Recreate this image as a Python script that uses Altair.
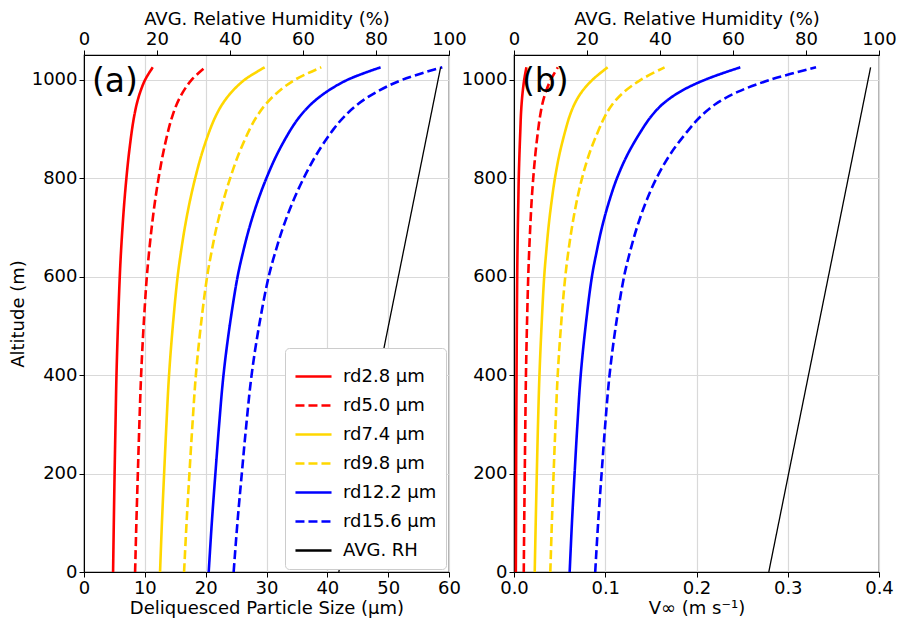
import altair as alt
import pandas as pd

# Altitude levels (m)
altitude = [0, 100, 200, 300, 400, 500, 600, 650, 700, 750, 800, 850, 900, 925, 950, 975, 1000, 1025]

series_names = ["rd2.8 µm", "rd5.0 µm", "rd7.4 µm", "rd9.8 µm", "rd12.2 µm", "rd15.6 µm", "AVG. RH"]
series_colors = ["#ff0000", "#ff0000", "#ffd700", "#ffd700", "#0000ff", "#0000ff", "#000000"]
series_dash = [[1, 0], [9, 4], [1, 0], [9, 4], [1, 0], [9, 4], [1, 0]]

# Deliquesced particle size (µm) per series
size_rd28 = [4.78, 4.90, 5.03, 5.18, 5.34, 5.58, 5.88, 6.08, 6.33, 6.62, 6.97, 7.39, 7.91, 8.24, 8.66, 9.25, 10.06, 11.3]
size_rd50 = [8.40, 8.61, 8.85, 9.10, 9.39, 9.80, 10.33, 10.70, 11.13, 11.64, 12.26, 13.00, 13.92, 14.50, 15.24, 16.28, 17.72, 19.9]
size_rd74 = [12.5, 12.81, 13.17, 13.55, 13.98, 14.60, 15.39, 15.94, 16.58, 17.35, 18.28, 19.38, 20.76, 21.62, 22.73, 24.28, 26.43, 29.7]
size_rd98 = [16.45, 16.86, 17.33, 17.83, 18.39, 19.2, 20.24, 20.96, 21.79, 22.81, 24.03, 25.47, 27.27, 28.40, 29.87, 31.90, 34.72, 39.0]
size_rd122 = [20.5, 21.01, 21.60, 22.22, 22.93, 23.95, 25.25, 26.15, 27.20, 28.47, 29.99, 31.80, 34.06, 35.47, 37.31, 39.85, 43.38, 48.75]
size_rd156 = [24.6, 25.22, 25.94, 26.69, 27.55, 28.78, 30.36, 31.46, 32.73, 34.27, 36.12, 38.32, 41.06, 42.78, 45.01, 48.10, 52.38, 58.9]

# Terminal velocity (m/s) per series
v_rd28 = [0.0020, 0.0022, 0.0023, 0.0025, 0.0028, 0.0031, 0.0035, 0.0038, 0.0042, 0.0047, 0.0052, 0.0060, 0.0070, 0.0075, 0.0083, 0.0095, 0.0112, 0.0136]
v_rd50 = [0.0107, 0.0112, 0.0118, 0.0124, 0.0131, 0.0142, 0.0156, 0.0166, 0.0178, 0.0192, 0.0211, 0.0235, 0.0266, 0.0285, 0.0310, 0.0348, 0.0404, 0.0480]
v_rd74 = [0.0227, 0.0238, 0.0250, 0.0263, 0.0279, 0.0302, 0.0331, 0.0353, 0.0378, 0.0410, 0.0449, 0.0500, 0.0568, 0.0608, 0.0662, 0.0742, 0.0862, 0.1026]
v_rd98 = [0.0398, 0.0415, 0.0434, 0.0455, 0.0479, 0.0515, 0.0562, 0.0595, 0.0635, 0.0684, 0.0746, 0.0826, 0.0933, 0.0995, 0.1079, 0.1206, 0.1393, 0.1650]
v_rd122 = [0.0610, 0.0635, 0.0664, 0.0695, 0.0731, 0.0785, 0.0854, 0.0905, 0.0964, 0.1038, 0.1129, 0.1250, 0.1408, 0.1502, 0.1627, 0.1816, 0.2097, 0.2480]
v_rd156 = [0.0890, 0.0922, 0.0960, 0.1000, 0.1047, 0.1116, 0.1206, 0.1271, 0.1348, 0.1443, 0.1562, 0.1718, 0.1923, 0.2044, 0.2206, 0.2451, 0.2814, 0.3310]

# Average relative humidity (%)
rh_altitude = [0, 1025]
rh_values = [69.8, 97.7]

y_ticks = [0, 200, 400, 600, 800, 1000]
size_ticks = [0, 10, 20, 30, 40, 50, 60]
v_ticks = [0.0, 0.1, 0.2, 0.3, 0.4]
rh_ticks = [0, 20, 40, 60, 80, 100]

sizes = [size_rd28, size_rd50, size_rd74, size_rd98, size_rd122, size_rd156]
vels = [v_rd28, v_rd50, v_rd74, v_rd98, v_rd122, v_rd156]

rows = []
for name, s_list, v_list in zip(series_names[:6], sizes, vels):
    for a, s, v in zip(altitude, s_list, v_list):
        rows.append({"series": name, "alt": a, "size": s, "v": v})
df = pd.DataFrame(rows)
rh_df = pd.DataFrame({"series": "AVG. RH", "alt": rh_altitude, "rh": rh_values})

FONT = "DejaVu Sans"
W, H = 365, 517
Y_MAX = 1050

color_scale = alt.Scale(domain=series_names, range=series_colors)
dash_scale = alt.Scale(domain=series_names, range=series_dash)


def y_enc(show_title):
    return alt.Y(
        "alt:Q",
        scale=alt.Scale(domain=[0, Y_MAX], nice=False),
        axis=alt.Axis(
            values=y_ticks,
            format="d",
            title="Altitude (m)" if show_title else None,
            grid=True,
            labelFlush=False,
        ),
    )


def panel(xfield, xdomain, xticks, xtitle, xformat, label, legend):
    if legend:
        leg = alt.Legend(
            title=None,
            orient="bottom-right",
            offset=3,
            symbolType="stroke",
            symbolSize=1300,
            symbolStrokeWidth=2.5,
            labelFontSize=18,
            labelFont=FONT,
            labelOffset=10,
            rowPadding=-8,
            padding=9,
            strokeColor="#cccccc",
            fillColor="#ffffff",
            cornerRadius=4,
            labelLimit=300,
        )
    else:
        leg = None
    lines = alt.Chart(df).mark_line(strokeWidth=2.6, clip=True, interpolate="catmull-rom").encode(
        x=alt.X(
            f"{xfield}:Q",
            scale=alt.Scale(domain=xdomain, nice=False),
            axis=alt.Axis(values=xticks, title=xtitle, format=xformat, grid=True, labelFlush=False),
        ),
        y=y_enc(legend),
        color=alt.Color("series:N", scale=color_scale, legend=leg),
        strokeDash=alt.StrokeDash("series:N", scale=dash_scale, legend=leg),
        order=alt.Order("alt:Q"),
    )
    rh = alt.Chart(rh_df).mark_line(strokeWidth=1.3).encode(
        x=alt.X(
            "rh:Q",
            scale=alt.Scale(domain=[0, 100], nice=False),
            axis=alt.Axis(values=rh_ticks, title="AVG. Relative Humidity (%)", orient="top",
                          grid=False, labelFlush=False),
        ),
        y=y_enc(legend),
        color=alt.Color("series:N", scale=color_scale, legend=leg),
        strokeDash=alt.StrokeDash("series:N", scale=dash_scale, legend=leg),
        order=alt.Order("alt:Q"),
    )
    txt = alt.Chart(pd.DataFrame({"t": [label]})).mark_text(
        align="left", baseline="alphabetic", fontSize=33, font=FONT, color="black"
    ).encode(x=alt.value(8), y=alt.value(37), text="t:N")
    return alt.layer(lines, rh, txt).resolve_scale(x="independent").properties(width=W, height=H)


left = panel("size", [0, 60], size_ticks, "Deliquesced Particle Size (µm)", "d", "(a)", True)
right = panel("v", [0, 0.4], v_ticks, "V∞ (m s⁻¹)", ".1f", "(b)", False)

chart = (
    alt.hconcat(left, right, spacing=-7)
    .resolve_scale(color="independent", strokeDash="independent")
    .properties(padding={"left": 0, "top": 1, "right": 0, "bottom": 0})
    .configure(font=FONT)
    .configure_view(stroke="black", strokeWidth=1.2)
    .configure_axis(
        labelFont=FONT,
        titleFont=FONT,
        labelFontSize=18,
        titleFontSize=18,
        titleFontWeight="normal",
        labelColor="black",
        titleColor="black",
        domainColor="black",
        tickColor="black",
        tickSize=5,
        labelPadding=2,
        titlePadding=2,
        gridColor="#d9d9d9",
        gridWidth=1.2,
        labelFlush=False,
    )
    .configure_axisY(titlePadding=4)
)

chart.save("out.html", embed_options={"renderer": "svg", "actions": False})
